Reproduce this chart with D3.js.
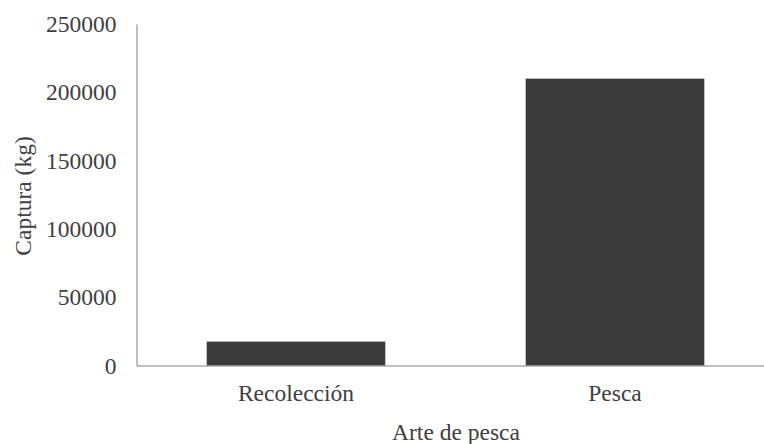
<!DOCTYPE html>
<html><head><meta charset="utf-8">
<script src="https://cdn.jsdelivr.net/npm/d3@7"></script>
<style>body{margin:0;background:#fff}svg{display:block}svg text{font-family:"Liberation Serif",serif !important}</style>
</head><body>
<svg id="c" width="764" height="444"></svg>
<script>
const categories = ["Recolección", "Pesca"];
const values = [17500, 210000];
const yTicks = [0, 50000, 100000, 150000, 200000, 250000];
const yTitle = "Captura (kg)";
const xTitle = "Arte de pesca";

const svg = d3.select("#c");
const FS = "23.5px";
const x = d3.scaleBand().domain(categories).range([136.5, 774.5]).paddingInner(0.44).paddingOuter(0.22);
const y = d3.scaleLinear().domain([0, 250000]).range([365.5, 24]);

svg.selectAll("rect.bar").data(values).join("rect")
  .attr("class", "bar")
  .attr("x", (d, i) => x(categories[i]))
  .attr("width", x.bandwidth())
  .attr("y", d => y(d))
  .attr("height", d => y(0) - y(d))
  .attr("fill", "#3b3b3b");

const ya = svg.append("g").attr("transform", "translate(136.5,0)")
  .call(d3.axisLeft(y).tickValues(yTicks).tickSize(0).tickPadding(20).tickFormat(d3.format("d")));
ya.select(".domain").attr("stroke", "#7f7f7f").attr("stroke-width", 1);
ya.selectAll("text").style("font-size", FS).attr("fill", "#404040");

const xa = svg.append("g").attr("transform", "translate(0,365.5)")
  .call(d3.axisBottom(x).tickSize(0).tickPadding(19));
xa.select(".domain").attr("stroke", "#7f7f7f").attr("stroke-width", 1);
xa.selectAll("text").style("font-size", FS).attr("fill", "#404040");

svg.append("text").attr("x", 456).attr("y", 439.5).attr("text-anchor", "middle")
  .style("font-size", FS).attr("fill", "#404040").text(xTitle);
svg.append("text").attr("transform", "translate(31,196) rotate(-90)").attr("text-anchor", "middle")
  .style("font-size", FS).attr("fill", "#404040").text(yTitle);
</script>
</body></html>
